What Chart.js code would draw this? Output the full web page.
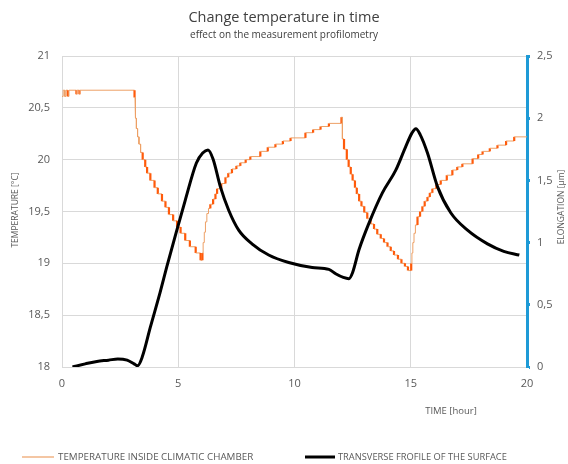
<!DOCTYPE html>
<html>
<head>
<meta charset="utf-8">
<script src="https://cdn.jsdelivr.net/npm/chart.js@4"></script>
<style>
  html, body { margin: 0; padding: 0; background: #fff; }
  #chart { display: block; }
</style>
</head>
<body>
<canvas id="chart" width="568" height="464"></canvas>
<script>
// temperature inside the chamber: step start times [hour] and the level held from there [°C]
const tempTime = [
  0, 0.05, 0.12, 0.17, 0.25, 0.3, 0.62, 0.64, 0.75, 0.77,
  3.12, 3.14, 3.17, 3.2, 3.25, 3.31, 3.38,
  3.47, 3.58, 3.66, 3.8, 3.98, 4.12, 4.3, 4.45, 4.6, 4.78, 4.95, 5.1, 5.3, 5.5, 5.75, 5.96,
  6.04, 6.07, 6.12, 6.17, 6.23, 6.3, 6.38, 6.5, 6.6, 6.67, 6.85, 7.03, 7.15, 7.31, 7.5, 7.67,
  7.9, 8.1, 8.53, 8.85, 9.18, 9.5, 9.83, 10.47, 10.8, 11.12, 11.48, 12.02,
  12.06, 12.13, 12.25, 12.33, 12.42, 12.5, 12.6, 12.68, 12.78, 12.88, 13.0, 13.13, 13.27,
  13.42, 13.56, 13.71, 13.85, 14.0, 14.14, 14.28, 14.45, 14.6, 14.75, 14.88,
  15.02, 15.05, 15.09, 15.14, 15.2, 15.29, 15.4, 15.5, 15.6, 15.72, 15.82, 15.93, 16.1,
  16.29, 16.55, 16.79, 17.0, 17.22, 17.66, 17.9, 18.09, 18.4, 18.73, 19.1, 19.45
];
const tempLevel = [
  20.61, 20.67, 20.61, 20.67, 20.61, 20.67, 20.63, 20.67, 20.63, 20.67,
  20.6, 20.5, 20.4, 20.3, 20.22, 20.15, 20.07,
  20.0, 19.93, 19.87, 19.8, 19.73, 19.67, 19.6, 19.54, 19.47, 19.41, 19.35, 19.29, 19.22, 19.16, 19.1, 19.03,
  19.1, 19.2, 19.3, 19.4, 19.48, 19.53, 19.57, 19.62, 19.67, 19.72, 19.77, 19.83, 19.87, 19.91, 19.94, 19.97,
  20.0, 20.03, 20.08, 20.12, 20.15, 20.18, 20.21, 20.26, 20.29, 20.32, 20.35, 20.41,
  20.2, 20.1, 20.0, 19.93, 19.86, 19.8, 19.73, 19.67, 19.6, 19.55, 19.49, 19.43, 19.38,
  19.33, 19.28, 19.24, 19.2, 19.16, 19.12, 19.08, 19.04, 19.0, 18.97, 18.93,
  19.0, 19.1, 19.2, 19.29, 19.37, 19.45, 19.5, 19.55, 19.6, 19.64, 19.68, 19.72, 19.76,
  19.8, 19.85, 19.9, 19.93, 19.96, 20.01, 20.05, 20.08, 20.11, 20.14, 20.18, 20.22
];
const tempEnd = 20;

// transverse profile of the surface: time [hour] and elongation [µm]
const elongTime = [
  0.45, 1.0, 1.5, 2.0, 2.4, 2.8, 3.1, 3.25, 3.45, 3.8, 4.22, 4.5, 4.94, 5.3, 5.78, 6.05, 6.28,
  6.5, 6.81, 7.17, 7.6, 8.17, 8.89, 9.75, 10.76, 11.48, 11.77, 12.1, 12.34, 12.5, 12.77,
  13.2, 13.78, 14.35, 14.78, 15.05, 15.22, 15.4, 15.72, 16.15, 16.72, 17.44, 18.3, 19.0, 19.67
];
const elongValue = [
  0.0, 0.025, 0.045, 0.055, 0.065, 0.055, 0.025, 0.01, 0.08, 0.32, 0.6, 0.8, 1.1, 1.34, 1.64, 1.72, 1.745,
  1.67, 1.45, 1.26, 1.1, 0.99, 0.9, 0.84, 0.8, 0.785, 0.75, 0.72, 0.71, 0.76, 0.94,
  1.155, 1.4, 1.58, 1.77, 1.88, 1.915, 1.87, 1.72, 1.45, 1.24, 1.1, 0.99, 0.93, 0.9
];

const labels = {
  title: 'Change temperature in time',
  subtitle: 'effect on the measurement profilometry',
  yTitle: 'TEMPERATURE [°C]',
  y2Title: 'ELONGATION [µm]',
  xTitle: 'TIME [hour]',
  tempName: 'TEMPERATURE INSIDE CLIMATIC CHAMBER',
  elongName: 'TRANSVERSE FROFILE OF THE SURFACE'
};

const FONT = '"Open Sans", "Noto Sans", sans-serif';
const TEXT = '#595959';
const GRID = '#d9d9d9';
const BLUE = '#1e9ad6';
const TEMP_LINE = '#eda066';
const TEMP_STEP = '#ff5a0a';

// stepped temperature: explicit corners so the vertical parts can be styled on their own
function stepPoints() {
  const pts = [];
  for (let i = 0; i < tempTime.length; i++) {
    if (i > 0) pts.push({ x: tempTime[i], y: tempLevel[i - 1] });
    pts.push({ x: tempTime[i], y: tempLevel[i] });
  }
  pts.push({ x: tempEnd, y: tempLevel[tempLevel.length - 1] });
  return pts;
}
const tempPts = stepPoints();

// a riser is drawn heavy only where the plateau before it is long enough to show
function heavyStep(ctx) {
  const i = ctx.p0DataIndex;
  if (ctx.p0.parsed.x !== ctx.p1.parsed.x) return false;
  if (i === 0) return true;
  return tempPts[i].x - tempPts[i - 1].x >= 0.07;
}
const comma = (v) => String(v).replace('.', ',');

// titles and the legend are placed by hand like the original
const textPlugin = {
  id: 'texts',
  afterDraw(chart) {
    const c = chart.ctx;
    c.save();
    c.textAlign = 'center';
    c.textBaseline = 'middle';
    c.fillStyle = '#404040';
    c.font = '14.5px ' + FONT;
    c.fillText(labels.title, 284, 18);
    c.font = '10px ' + FONT;
    c.fillText(labels.subtitle, 284, 35);

    c.fillStyle = TEXT;
    c.font = '9.5px ' + FONT;
    c.fillText(labels.xTitle, 451, 411);

    c.font = '8.5px ' + FONT;
    c.save();
    c.translate(15.5, 210);
    c.rotate(-Math.PI / 2);
    c.fillText(labels.yTitle, 0, 0);
    c.restore();
    c.save();
    c.translate(561.5, 207);
    c.rotate(-Math.PI / 2);
    c.fillText(labels.y2Title, 0, 0);
    c.restore();

    // legend
    c.textAlign = 'left';
    c.font = '9.8px ' + FONT;
    c.strokeStyle = TEMP_LINE;
    c.lineWidth = 1.2;
    c.beginPath(); c.moveTo(22, 457); c.lineTo(54, 457); c.stroke();
    c.fillText(labels.tempName, 58, 457);
    c.strokeStyle = '#000';
    c.lineWidth = 3;
    c.beginPath(); c.moveTo(305, 457); c.lineTo(335, 457); c.stroke();
    c.font = '9.3px ' + FONT;
    c.fillText(labels.elongName, 338, 457);
    c.restore();
  }
};

const chart = new Chart(document.getElementById('chart').getContext('2d'), {
  type: 'line',
  data: {
    datasets: [
      {
        label: labels.elongName,
        data: elongTime.map((t, i) => ({ x: t, y: elongValue[i] })),
        yAxisID: 'y2',
        borderColor: '#000',
        borderWidth: 3,
        pointRadius: 0,
        cubicInterpolationMode: 'monotone',
        order: 0,
      },
      {
        label: labels.tempName,
        data: tempPts,
        yAxisID: 'y',
        borderColor: TEMP_LINE,
        borderWidth: 1,
        pointRadius: 0,
        tension: 0,
        order: 1,
        segment: {
          borderColor: (ctx) => (heavyStep(ctx) ? TEMP_STEP : TEMP_LINE),
          borderWidth: (ctx) => (heavyStep(ctx) ? 2.2 : 1),
        },
      },
    ],
  },
  options: {
    responsive: false,
    animation: false,
    layout: { padding: { top: 56, left: 0, right: 0, bottom: 0 } },
    plugins: { legend: { display: false }, title: { display: false }, tooltip: { enabled: false } },
    scales: {
      x: {
        type: 'linear',
        min: 0, max: 20,
        ticks: { stepSize: 5, color: TEXT, font: { family: FONT, size: 11 }, padding: 10 },
        grid: { color: GRID, drawTicks: false },
        border: { color: GRID },
        afterFit: (s) => { s.height = 97; },
      },
      y: {
        position: 'left',
        min: 18, max: 21,
        ticks: { stepSize: 0.5, color: TEXT, font: { family: FONT, size: 11 }, padding: 12, callback: comma },
        grid: { color: GRID, drawTicks: false },
        border: { color: GRID },
        afterFit: (s) => { s.width = 62; },
      },
      y2: {
        position: 'right',
        min: 0, max: 2.5,
        ticks: { stepSize: 0.5, color: TEXT, font: { family: FONT, size: 11 }, padding: 7, callback: comma },
        grid: { drawOnChartArea: false, tickLength: 3, tickColor: BLUE, tickWidth: 3 },
        border: { color: BLUE, width: 3 },
        afterFit: (s) => { s.width = 41; },
      },
    },
  },
  plugins: [textPlugin],
});
</script>
</body>
</html>
